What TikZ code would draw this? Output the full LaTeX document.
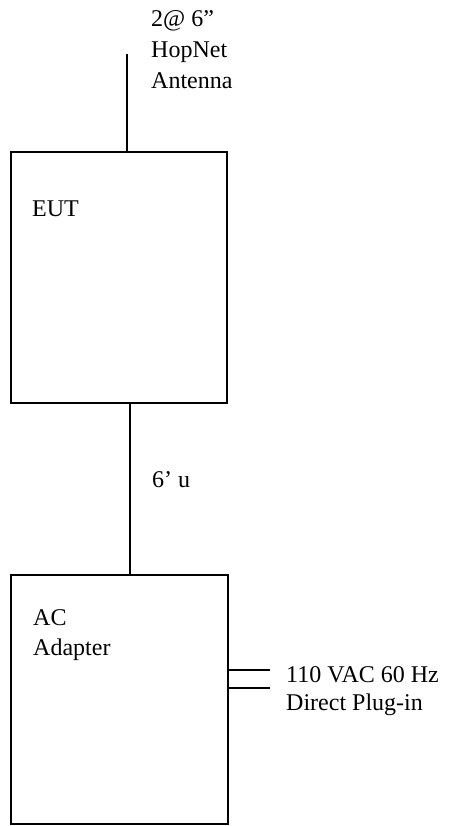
\documentclass[tikz,border=0pt]{standalone}
\usepackage{fontspec}
\setmainfont{Liberation Serif}
\begin{document}
\begin{tikzpicture}[x=1pt,y=-1pt,
  box/.style={draw, line width=1.6pt, minimum width=216pt, anchor=north west, inner sep=0pt},
  wire/.style={line width=1.4pt},
  lbl/.style={anchor=base west, inner sep=0pt, font=\fontsize{24}{28}\selectfont}]
\useasboundingbox (0,0) rectangle (470,826);
% boxes
\node[box, minimum height=251pt] (eut) at (10,151) {};
\node[box, minimum height=249pt, minimum width=217pt] (ac) at (10,574) {};
% labels
\node[lbl] (t1) at (151,27) {2@ 6”};
\node[lbl] (t2) at (151,58) {HopNet};
\node[lbl] (t3) at (151,89) {Antenna};
\node[lbl] (eutl) at (32,217) {EUT};
\node[lbl] (cab) at (152,487) {6’ u};
\node[lbl] (acl1) at (33,625) {AC};
\node[lbl] (acl2) at (33,655) {Adapter};
\node[lbl] (pw1) at (286,682) {110 VAC 60 Hz};
\node[lbl] (pw2) at (286,710) {Direct Plug-in};
% connectors
\coordinate (ant) at (127,54);
\draw[wire] (ant) -- (ant |- eut.north);
\coordinate (cx) at (130,0);
\draw[wire] (cx |- eut.south) -- (cx |- ac.north);
\coordinate (p1) at (270,670);
\coordinate (p2) at (270,688);
\draw[wire] (ac.east |- p1) -- (p1);
\draw[wire] (ac.east |- p2) -- (p2);
\end{tikzpicture}
\end{document}
